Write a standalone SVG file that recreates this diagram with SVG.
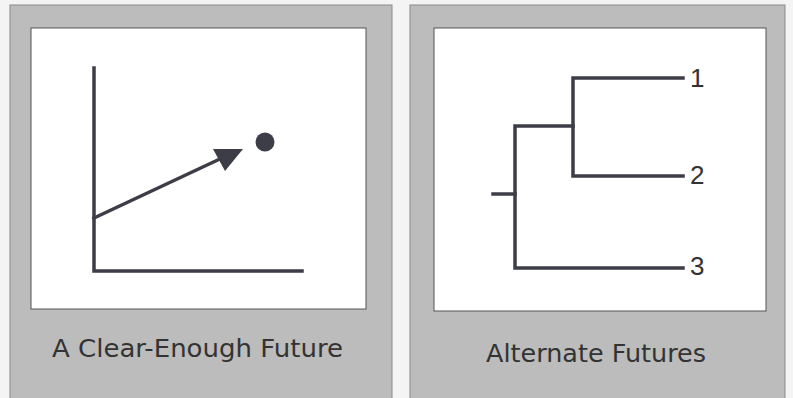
<svg xmlns="http://www.w3.org/2000/svg" width="793" height="398" viewBox="0 0 793 398">
<style>
.panel{fill:#bcbcbc;stroke:#8a8a8a;stroke-width:1}
.inner{fill:#ffffff;stroke:#555;stroke-width:1}
.ln{fill:none;stroke:#3d3d48;stroke-width:3.5;stroke-linecap:square}
.cap{font-family:"DejaVu Sans",Verdana,sans-serif;font-size:25px;fill:#333}
.num{font-family:"Liberation Sans",Arial,sans-serif;font-size:26px;fill:#333}
</style>
<rect width="793" height="398" fill="#f4f4f4"/>
<g id="clear-enough">
<rect class="panel" x="10" y="5" width="382" height="400"/>
<rect class="inner" x="31" y="28" width="335" height="281"/>
<polyline class="ln" points="94,68 94,271 302,271"/>
<line class="ln" x1="94" y1="218" x2="222" y2="158"/>
<polygon points="213,149 243,149 225,171" fill="#3d3d48"/>
<circle cx="265" cy="142" r="9.5" fill="#3d3d48"/>
<text class="cap" x="52" y="357" textLength="291" lengthAdjust="spacingAndGlyphs">A Clear-Enough Future</text>
</g>
<g id="alternate">
<rect class="panel" x="410" y="5" width="375" height="400"/>
<rect class="inner" x="434" y="28" width="332" height="283"/>
<text class="cap" x="486" y="362" font-size="27" textLength="220" lengthAdjust="spacingAndGlyphs">Alternate Futures</text>
</g>
<g id="connectors">
<line class="ln" x1="493" y1="194" x2="515" y2="194"/>
<polyline class="ln" points="573,126 515,126 515,268 683,268"/>
<polyline class="ln" points="683,78 573,78 573,176 683,176"/>
</g>
<g id="labels">
<text class="num" x="690" y="87">1</text>
<text class="num" x="690" y="184">2</text>
<text class="num" x="690" y="275">3</text>
</g>
</svg>
